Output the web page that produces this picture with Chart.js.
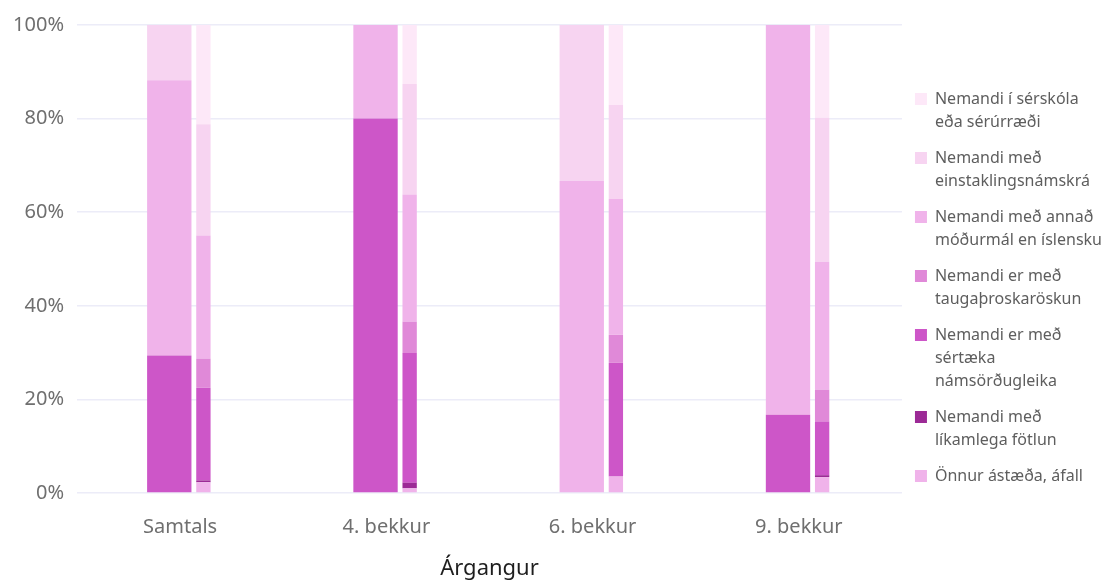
<!DOCTYPE html>
<html lang="is">
<head>
<meta charset="utf-8">
<title>Árgangur</title>
<script src="https://cdn.jsdelivr.net/npm/chart.js@4.4.1/dist/chart.umd.min.js"></script>
<style>
  html, body { margin: 0; padding: 0; background: #fff; }
  #wrap { position: relative; width: 1112px; height: 580px; }
</style>
</head>
<body>
<div id="wrap"><canvas id="chart"></canvas></div>
<script>
(function () {
  "use strict";

  const CATEGORIES = ["Samtals", "4. bekkur", "6. bekkur", "9. bekkur"];

  // series in stacking order, bottom first
  const LEGEND_LINES = [
    ["Önnur ástæða, áfall"],
    ["Nemandi með", "líkamlega fötlun"],
    ["Nemandi er með", "sértæka", "námsörðugleika"],
    ["Nemandi er með", "taugaþroskaröskun"],
    ["Nemandi með annað", "móðurmál en íslensku"],
    ["Nemandi með", "einstaklingsnámskrá"],
    ["Nemandi í sérskóla", "eða sérúrræði"],
  ];

  const COLORS = ["#f0b3ea", "#9c2a96", "#cd56c8", "#e089d8", "#f0b3ea", "#f7d4f1", "#fde8f8"];

  // wide bar (one row per series, one value per category), %
  const WIDE_VALUES = [
    [0, 0, 0, 0],
    [0, 0, 0, 0],
    [29.4, 80, 0, 16.7],
    [0, 0, 0, 0],
    [58.8, 20, 66.7, 83.3],
    [11.8, 0, 33.3, 0],
    [0, 0, 0, 0],
  ];

  // narrow bar, %
  const NARROW_VALUES = [
    [2.3, 1.0, 3.5, 3.4],
    [0.4, 1.2, 0, 0.4],
    [19.8, 27.7, 24.3, 11.5],
    [6.2, 6.7, 6.0, 6.8],
    [26.3, 27.2, 29.0, 27.3],
    [23.8, 23.6, 20.1, 30.8],
    [21.2, 12.6, 17.1, 19.8],
  ];

  const Y_MAX = 100;
  const Y_STEP = 20;

  Chart.defaults.font.family = "'Noto Sans', 'Open Sans', sans-serif";

  const datasets = [];
  LEGEND_LINES.forEach((lines, i) => {
    datasets.push({
      label: lines.join(" "),
      data: WIDE_VALUES[i],
      backgroundColor: COLORS[i],
      borderWidth: 0,
      stack: "wide",
      categoryPercentage: 0.2102,
      barPercentage: 2.046,
      seriesIndex: i,
    });
  });
  LEGEND_LINES.forEach((lines, i) => {
    datasets.push({
      label: lines.join(" "),
      data: NARROW_VALUES[i],
      backgroundColor: COLORS[i],
      borderWidth: 0,
      stack: "narrow",
      categoryPercentage: 0.4516,
      barPercentage: 0.308,
      seriesIndex: i,
    });
  });

  const baseLabels = Chart.defaults.plugins.legend.labels.generateLabels;

  new Chart(document.getElementById("chart"), {
    type: "bar",
    data: { labels: CATEGORIES, datasets },
    options: {
      responsive: true,
      maintainAspectRatio: false,
      animation: false,
      layout: { padding: { top: 23, right: 0, bottom: 0, left: 0 } },
      plugins: {
        legend: {
          position: "right",
          align: "start",
          reverse: true,
          title: { display: true, text: "", font: { size: 10, lineHeight: 1 }, padding: { top: 45, bottom: 0 } },
          labels: {
            boxWidth: 12,
            boxHeight: 12,
            padding: 13,
            color: "#5e5e5e",
            font: { size: 16, lineHeight: 23 / 16 },
            generateLabels(chart) {
              return baseLabels(chart).map((item) => {
                const ds = chart.data.datasets[item.datasetIndex];
                item.text = LEGEND_LINES[ds.seriesIndex];
                item.lineWidth = 0;
                item.strokeStyle = "rgba(0,0,0,0)";
                return item;
              });
            },
            filter(item, data) {
              return data.datasets[item.datasetIndex].stack === "wide";
            },
          },
        },
      },
      scales: {
        x: {
          stacked: true,
          afterFit(scale) { scale.height = 87; },
          grid: { display: false, drawTicks: false },
          border: { display: false },
          ticks: { color: "#6f6f6f", padding: 22, font: { size: 20 } },
          title: {
            display: true,
            text: "Árgangur",
            color: "#1e1e1e",
            font: { size: 22 },
            padding: { top: 17, bottom: -2 },
          },
        },
        y: {
          stacked: true,
          min: 0,
          max: Y_MAX,
          afterFit(scale) { scale.width = 77; },
          grid: { color: "#ececf8", lineWidth: 1.5, drawTicks: false },
          border: { display: false },
          ticks: {
            stepSize: Y_STEP,
            color: "#6f6f6f",
            padding: 13,
            font: { size: 20 },
            callback: (v) => v + "%",
          },
        },
      },
    },
  });
})();
</script>
</body>
</html>
